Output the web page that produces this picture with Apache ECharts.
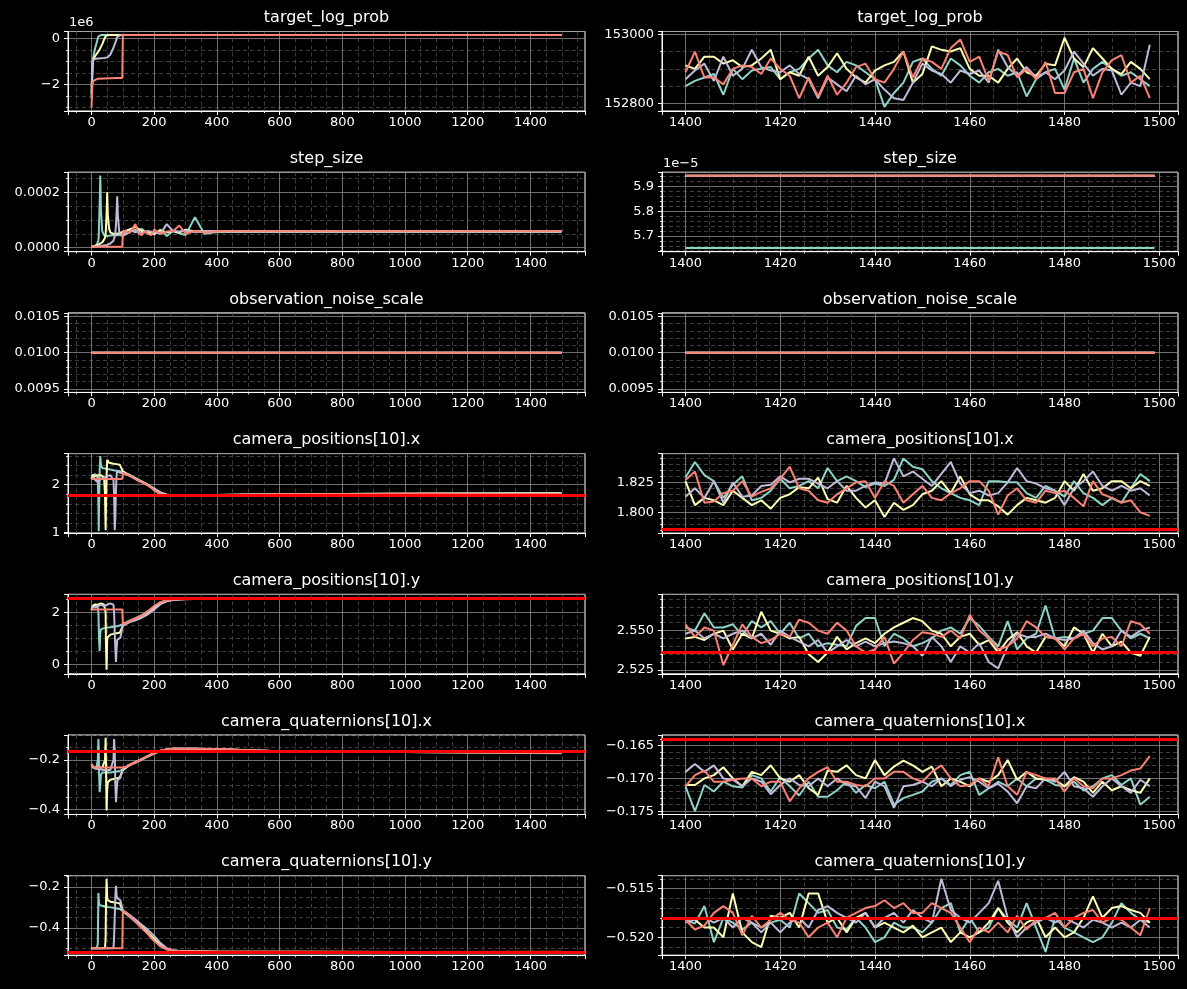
<!DOCTYPE html>
<html>
<head>
<meta charset="utf-8">
<script src="https://cdn.jsdelivr.net/npm/echarts@6/dist/echarts.min.js"></script>
<style>
  html, body { margin: 0; padding: 0; background: #000; }
  #chart { width: 1187px; height: 989px; }
</style>
</head>
<body>
<div id="chart"></div>
<script>
// chain colours (teal, yellow, lavender, salmon) and the true value line
const chainColors = ['#8dd3c7', '#feffb3', '#bfbbd9', '#fa8174']
const truthColor = '#ff0000'

// ---- left column: whole run, steps per chain ----
const stepsTeal = [0,4,8,12,16,20,22,23,24,26,28,30,34,40,50,60,70,80,90,100,120,140,160,180,200,220,240,260,280,300,330,360,400,600,1000,1499]
const stepsYellow = [0,4,8,12,16,20,25,30,35,40,43,45,46,48,50,52,56,60,70,80,90,100,120,140,160,180,200,220,240,260,280,300,330,360,400,600,1000,1499]
const stepsLav = [0,4,8,12,16,20,30,40,50,60,65,70,72,74,76,78,80,82,84,88,92,96,100,120,140,160,180,200,220,240,260,280,300,330,360,400,600,1000,1499]
const stepsSalmon = [0,3,6,10,20,40,60,80,98,99,100,110,120,130,140,150,160,170,180,190,200,220,240,260,280,300,330,360,400,600,1000,1499]
const stepsFlatLeft = [0, 1499]

const tlpTealL = [-2600000,-950000,-650000,-400000,-200000,0,100000,130000,145000,150000,151500,152000,152400,152600,152700,152750,152780,152800,152820,152830,152850,152860,152860,152870,152870,152880,152880,152880,152880,152890,152890,152890,152890,152890,152880,152850]
const tlpYellowL = [-2400000,-1000000,-850000,-750000,-680000,-600000,-500000,-360000,-220000,-50000,50000,100000,120000,140000,150000,151500,152200,152500,152700,152780,152820,152840,152860,152870,152880,152880,152890,152890,152900,152900,152900,152900,152910,152910,152910,152910,152910,152870]
const tlpLavL = [-2100000,-950000,-900000,-880000,-870000,-865000,-860000,-850000,-820000,-700000,-550000,-400000,-320000,-250000,-180000,-100000,-20000,80000,140000,152000,152400,152600,152700,152800,152830,152850,152860,152870,152870,152880,152880,152880,152880,152880,152880,152880,152880,152880,152860]
const tlpSalmonL = [-3000000,-2000000,-1850000,-1780000,-1750000,-1740000,-1730000,-1725000,-1720000,-1720000,152000,152500,152700,152800,152830,152850,152860,152870,152870,152880,152880,152880,152880,152880,152890,152890,152890,152890,152890,152890,152890,152890]

const stepTealL = [0.3e-5,0.4e-5,0.5e-5,0.7e-5,1.0e-5,1.5e-5,2.5e-5,4e-5,8e-5,16e-5,26e-5,14e-5,6e-5,4.5e-5,4.2e-5,4.4e-5,4.5e-5,4.5e-5,4.6e-5,5.0e-5,6.5e-5,5.5e-5,6.8e-5,5.0e-5,4.8e-5,6.5e-5,4.2e-5,6.0e-5,5.2e-5,4.6e-5,11e-5,5.0e-5,5.651e-5,5.651e-5,5.651e-5,5.651e-5]
const stepYellowL = [0.3e-5,0.4e-5,0.5e-5,0.6e-5,0.8e-5,1.0e-5,1.3e-5,1.6e-5,2.0e-5,2.5e-5,3.5e-5,5e-5,7e-5,12e-5,20e-5,12e-5,7e-5,5.5e-5,5e-5,5e-5,5.2e-5,5.8e-5,6.5e-5,7.5e-5,6.0e-5,5.5e-5,5.0e-5,6.2e-5,5.5e-5,6.0e-5,5.5e-5,6.5e-5,5.8e-5,6.0e-5,5.9435e-5,5.9435e-5,5.9435e-5,5.9435e-5]
const stepLavL = [0.3e-5,0.3e-5,0.35e-5,0.4e-5,0.45e-5,0.5e-5,0.6e-5,0.8e-5,1.0e-5,1.5e-5,2.0e-5,2.5e-5,3.0e-5,4.0e-5,5.5e-5,8e-5,13e-5,18.5e-5,12e-5,6e-5,4.5e-5,4.2e-5,4.3e-5,5.5e-5,6.5e-5,5.2e-5,6.0e-5,5.5e-5,5.0e-5,8.5e-5,6.0e-5,5.8e-5,6.2e-5,5.6e-5,6.0e-5,5.9435e-5,5.9435e-5,5.9435e-5,5.9435e-5]
const stepSalmonL = [0.3e-5,0.3e-5,0.3e-5,0.3e-5,0.3e-5,0.3e-5,0.3e-5,0.3e-5,0.3e-5,0.3e-5,5.5e-5,6.0e-5,5.2e-5,6.8e-5,8.5e-5,5.0e-5,4.5e-5,6.0e-5,5.0e-5,4.5e-5,6.5e-5,5.0e-5,5.8e-5,6.0e-5,8.0e-5,5.0e-5,6.0e-5,5.5e-5,5.9435e-5,5.9435e-5,5.9435e-5,5.9435e-5]

const noiseFlat = [0.01, 0.01]

const posXTealL = [2.12,2.2,2.22,2.22,2.2,2.15,1.6,1.03,1.5,2.3,2.6,2.42,2.35,2.34,2.33,2.32,2.3,2.29,2.28,2.26,2.21,2.14,2.07,2.0,1.92,1.83,1.79,1.775,1.775,1.775,1.778,1.78,1.785,1.80,1.812,1.828]
const posXYellowL = [2.12,2.2,2.2,2.18,2.15,2.2,2.22,2.2,2.2,2.15,1.8,1.05,1.5,2.2,2.52,2.5,2.46,2.45,2.44,2.43,2.42,2.28,2.2,2.13,2.06,1.99,1.91,1.82,1.785,1.77,1.77,1.772,1.775,1.778,1.785,1.80,1.81,1.822]
const posXLavL = [2.12,2.15,2.15,2.1,2.08,2.05,2.12,2.15,2.18,2.2,2.2,2.1,1.8,1.05,1.3,1.9,2.2,2.28,2.27,2.26,2.25,2.25,2.24,2.19,2.12,2.06,1.99,1.92,1.84,1.795,1.78,1.775,1.775,1.777,1.78,1.785,1.80,1.81,1.815]
const posXSalmonL = [2.12,2.12,2.12,2.12,2.12,2.12,2.12,2.12,2.12,2.12,2.25,2.22,2.19,2.16,2.12,2.08,2.05,2.02,1.98,1.94,1.88,1.8,1.78,1.772,1.77,1.77,1.772,1.775,1.78,1.80,1.81,1.806]

const posYTealL = [2.1,2.25,2.3,2.32,2.3,2.2,2.0,1.5,1.0,0.52,1.2,1.35,1.38,1.4,1.42,1.43,1.45,1.47,1.5,1.55,1.68,1.78,1.9,2.05,2.22,2.38,2.46,2.5,2.51,2.52,2.525,2.528,2.53,2.535,2.54,2.545]
const posYYellowL = [2.1,2.25,2.3,2.3,2.3,2.3,2.3,2.35,2.35,2.3,2.3,2.0,0.8,-0.2,0.95,1.05,1.1,1.15,1.18,1.2,1.22,1.5,1.64,1.74,1.85,2.0,2.2,2.37,2.45,2.49,2.51,2.52,2.525,2.528,2.53,2.535,2.54,2.546]
const posYLavL = [2.1,2.2,2.2,2.2,2.2,2.25,2.3,2.25,2.3,2.35,2.38,2.3,2.0,1.2,0.6,0.1,0.6,0.95,1.0,1.02,1.03,1.05,1.5,1.62,1.7,1.8,1.93,2.12,2.32,2.43,2.48,2.5,2.51,2.52,2.525,2.53,2.535,2.54,2.548]
const posYSalmonL = [2.12,2.12,2.12,2.12,2.12,2.12,2.12,2.12,2.12,2.12,1.55,1.6,1.66,1.72,1.77,1.82,1.88,1.96,2.05,2.15,2.25,2.4,2.47,2.5,2.51,2.52,2.525,2.528,2.53,2.535,2.54,2.548]

const quatXTealL = [-0.22,-0.225,-0.23,-0.23,-0.23,-0.2,-0.115,-0.16,-0.25,-0.33,-0.3,-0.26,-0.25,-0.25,-0.25,-0.25,-0.248,-0.246,-0.244,-0.238,-0.222,-0.21,-0.198,-0.186,-0.174,-0.164,-0.157,-0.155,-0.155,-0.155,-0.155,-0.156,-0.157,-0.165,-0.168,-0.1728]
const quatXYellowL = [-0.22,-0.225,-0.23,-0.23,-0.23,-0.23,-0.23,-0.23,-0.23,-0.23,-0.2,-0.11,-0.2,-0.404,-0.32,-0.29,-0.285,-0.28,-0.277,-0.274,-0.27,-0.24,-0.222,-0.21,-0.197,-0.184,-0.172,-0.163,-0.157,-0.155,-0.155,-0.155,-0.155,-0.156,-0.157,-0.165,-0.168,-0.17]
const quatXLavL = [-0.22,-0.23,-0.235,-0.235,-0.235,-0.236,-0.238,-0.24,-0.24,-0.24,-0.238,-0.2,-0.115,-0.16,-0.3,-0.37,-0.33,-0.29,-0.28,-0.275,-0.272,-0.27,-0.235,-0.22,-0.208,-0.196,-0.183,-0.171,-0.162,-0.157,-0.155,-0.155,-0.155,-0.155,-0.156,-0.157,-0.165,-0.168,-0.171]
const quatXSalmonL = [-0.215,-0.225,-0.23,-0.23,-0.23,-0.23,-0.23,-0.23,-0.23,-0.23,-0.235,-0.228,-0.22,-0.215,-0.21,-0.204,-0.197,-0.19,-0.184,-0.178,-0.172,-0.162,-0.157,-0.155,-0.155,-0.155,-0.155,-0.155,-0.156,-0.165,-0.168,-0.1702]

const quatYTealL = [-0.5,-0.5,-0.5,-0.5,-0.5,-0.48,-0.23,-0.26,-0.28,-0.29,-0.29,-0.29,-0.292,-0.295,-0.298,-0.3,-0.302,-0.305,-0.308,-0.318,-0.345,-0.37,-0.40,-0.43,-0.46,-0.49,-0.506,-0.512,-0.514,-0.515,-0.516,-0.516,-0.517,-0.518,-0.518,-0.5185]
const quatYYellowL = [-0.5,-0.5,-0.5,-0.5,-0.5,-0.5,-0.5,-0.5,-0.5,-0.5,-0.5,-0.45,-0.3,-0.16,-0.25,-0.265,-0.27,-0.272,-0.275,-0.278,-0.28,-0.318,-0.34,-0.365,-0.395,-0.425,-0.455,-0.485,-0.503,-0.511,-0.514,-0.515,-0.516,-0.516,-0.517,-0.517,-0.518,-0.5185]
const quatYLavL = [-0.5,-0.5,-0.5,-0.5,-0.5,-0.5,-0.5,-0.5,-0.5,-0.5,-0.5,-0.5,-0.45,-0.35,-0.25,-0.195,-0.24,-0.255,-0.26,-0.262,-0.265,-0.27,-0.315,-0.335,-0.36,-0.385,-0.41,-0.44,-0.475,-0.5,-0.51,-0.513,-0.515,-0.516,-0.516,-0.517,-0.517,-0.518,-0.519]
const quatYSalmonL = [-0.5,-0.5,-0.5,-0.5,-0.5,-0.5,-0.5,-0.5,-0.5,-0.5,-0.315,-0.325,-0.34,-0.355,-0.37,-0.385,-0.40,-0.415,-0.43,-0.45,-0.465,-0.49,-0.505,-0.512,-0.514,-0.515,-0.516,-0.516,-0.517,-0.517,-0.518,-0.517]

// ---- right column: last 100 steps ----
const stepsRight = [1400,1402,1404,1406,1408,1410,1412,1414,1416,1418,1420,1422,1424,1426,1428,1430,1432,1434,1436,1438,1440,1442,1444,1446,1448,1450,1452,1454,1456,1458,1460,1462,1464,1466,1468,1470,1472,1474,1476,1478,1480,1482,1484,1486,1488,1490,1492,1494,1496,1498]
const stepsFlatRight = [1400, 1499]

const tlpTealR = [152850,152865,152875,152885,152825,152900,152870,152895,152900,152905,152870,152890,152900,152930,152955,152910,152890,152920,152910,152890,152870,152790,152830,152860,152920,152930,152900,152880,152930,152910,152880,152860,152890,152900,152880,152890,152820,152870,152890,152900,152840,152930,152860,152900,152920,152900,152880,152890,152870,152850]
const tlpYellowR = [152910,152900,152935,152935,152915,152925,152905,152910,152930,152955,152870,152890,152880,152935,152880,152905,152945,152900,152875,152860,152895,152910,152920,152950,152860,152885,152965,152955,152950,152960,152900,152880,152880,152860,152900,152930,152890,152880,152915,152910,152990,152930,152905,152960,152930,152900,152885,152920,152900,152870]
const tlpLavR = [152870,152895,152915,152865,152935,152880,152900,152955,152905,152895,152890,152910,152885,152870,152815,152875,152855,152835,152880,152855,152870,152840,152815,152810,152860,152915,152895,152885,152860,152895,152885,152895,152860,152955,152905,152880,152905,152875,152890,152870,152895,152950,152915,152880,152900,152895,152825,152860,152850,152970]
const tlpSalmonR = [152890,152950,152875,152875,152855,152900,152910,152905,152885,152930,152900,152880,152815,152875,152820,152880,152825,152860,152905,152915,152870,152860,152900,152950,152875,152930,152920,152900,152960,152985,152920,152935,152865,152950,152940,152875,152900,152870,152920,152830,152830,152890,152900,152815,152890,152925,152940,152860,152880,152815]

const stepTealR = [5.651e-5, 5.651e-5]
const stepOtherR = [5.9435e-5, 5.9435e-5]

const posXTealR = [1.829,1.842,1.831,1.826,1.812,1.823,1.830,1.810,1.812,1.818,1.828,1.820,1.822,1.826,1.820,1.837,1.826,1.830,1.826,1.821,1.824,1.822,1.827,1.845,1.838,1.836,1.826,1.820,1.816,1.812,1.810,1.806,1.826,1.826,1.825,1.825,1.816,1.812,1.822,1.818,1.813,1.826,1.816,1.812,1.806,1.812,1.808,1.820,1.832,1.826]
const posXYellowR = [1.826,1.806,1.812,1.810,1.806,1.818,1.812,1.806,1.810,1.803,1.812,1.815,1.821,1.820,1.829,1.811,1.808,1.822,1.812,1.804,1.810,1.796,1.808,1.802,1.806,1.815,1.818,1.826,1.816,1.830,1.815,1.810,1.810,1.805,1.798,1.806,1.812,1.810,1.808,1.812,1.826,1.818,1.832,1.818,1.820,1.826,1.826,1.820,1.826,1.822]
const posXLavR = [1.813,1.820,1.812,1.826,1.808,1.825,1.813,1.814,1.822,1.823,1.830,1.825,1.828,1.828,1.824,1.820,1.826,1.818,1.818,1.822,1.825,1.824,1.845,1.830,1.834,1.828,1.822,1.832,1.842,1.824,1.816,1.818,1.814,1.816,1.825,1.837,1.826,1.824,1.820,1.818,1.806,1.820,1.826,1.834,1.822,1.818,1.822,1.818,1.820,1.814]
const posXSalmonR = [1.827,1.834,1.808,1.809,1.816,1.818,1.826,1.813,1.817,1.820,1.828,1.838,1.820,1.818,1.810,1.808,1.815,1.820,1.825,1.826,1.812,1.826,1.822,1.808,1.815,1.822,1.812,1.810,1.816,1.820,1.826,1.826,1.818,1.798,1.814,1.820,1.810,1.808,1.818,1.816,1.818,1.812,1.805,1.826,1.815,1.812,1.808,1.810,1.800,1.797]

const posYTealR = [2.552,2.550,2.561,2.552,2.552,2.554,2.547,2.556,2.552,2.556,2.548,2.555,2.545,2.548,2.540,2.542,2.541,2.540,2.553,2.558,2.558,2.540,2.548,2.545,2.540,2.542,2.545,2.550,2.552,2.548,2.558,2.553,2.546,2.540,2.556,2.538,2.545,2.548,2.566,2.545,2.546,2.545,2.548,2.550,2.558,2.558,2.550,2.545,2.548,2.545]
const posYYellowR = [2.545,2.546,2.544,2.548,2.550,2.538,2.548,2.545,2.562,2.550,2.548,2.545,2.546,2.535,2.530,2.536,2.546,2.538,2.542,2.545,2.542,2.548,2.552,2.555,2.558,2.556,2.550,2.548,2.540,2.546,2.548,2.541,2.544,2.536,2.544,2.549,2.540,2.536,2.546,2.545,2.540,2.552,2.548,2.536,2.548,2.540,2.543,2.536,2.534,2.546]
const posYLavR = [2.548,2.550,2.545,2.548,2.545,2.548,2.550,2.545,2.548,2.541,2.550,2.546,2.543,2.540,2.544,2.536,2.540,2.544,2.540,2.543,2.540,2.542,2.543,2.542,2.540,2.534,2.546,2.540,2.530,2.540,2.536,2.542,2.530,2.526,2.540,2.548,2.546,2.546,2.548,2.545,2.544,2.545,2.550,2.542,2.538,2.540,2.550,2.546,2.550,2.552]
const posYSalmonR = [2.554,2.546,2.552,2.550,2.528,2.541,2.554,2.546,2.542,2.544,2.548,2.546,2.557,2.555,2.550,2.548,2.555,2.550,2.540,2.536,2.538,2.546,2.529,2.536,2.544,2.549,2.548,2.546,2.550,2.545,2.560,2.550,2.545,2.538,2.540,2.545,2.556,2.552,2.546,2.545,2.538,2.545,2.548,2.540,2.545,2.546,2.540,2.556,2.554,2.548]

const quatXTealR = [-0.1712,-0.1750,-0.1710,-0.1720,-0.1705,-0.1712,-0.1714,-0.1695,-0.1700,-0.1720,-0.1698,-0.1712,-0.1726,-0.1705,-0.1728,-0.1728,-0.1718,-0.1705,-0.1722,-0.1710,-0.1715,-0.1705,-0.1740,-0.1730,-0.1725,-0.1720,-0.1705,-0.1700,-0.1710,-0.1695,-0.1690,-0.1725,-0.1715,-0.1705,-0.1712,-0.1700,-0.1712,-0.1700,-0.1702,-0.1710,-0.1712,-0.1705,-0.1718,-0.1712,-0.1700,-0.1695,-0.1710,-0.1700,-0.1740,-0.1728]
const quatXYellowR = [-0.1710,-0.1710,-0.1700,-0.1695,-0.1683,-0.1700,-0.1712,-0.1690,-0.1695,-0.1680,-0.1700,-0.1705,-0.1695,-0.1715,-0.1725,-0.1688,-0.1690,-0.1680,-0.1695,-0.1700,-0.1672,-0.1695,-0.1682,-0.1673,-0.1680,-0.1690,-0.1682,-0.1712,-0.1700,-0.1705,-0.1712,-0.1700,-0.1705,-0.1695,-0.1672,-0.1702,-0.1690,-0.1700,-0.1702,-0.1702,-0.1712,-0.1698,-0.1705,-0.1722,-0.1705,-0.1718,-0.1712,-0.1718,-0.1722,-0.1700]
const quatXLavR = [-0.1690,-0.1678,-0.1690,-0.1680,-0.1700,-0.1702,-0.1712,-0.1700,-0.1705,-0.1724,-0.1710,-0.1700,-0.1710,-0.1712,-0.1700,-0.1712,-0.1700,-0.1710,-0.1712,-0.1730,-0.1705,-0.1712,-0.1745,-0.1712,-0.1710,-0.1705,-0.1712,-0.1700,-0.1712,-0.1702,-0.1698,-0.1705,-0.1715,-0.1708,-0.1720,-0.1738,-0.1712,-0.1715,-0.1700,-0.1705,-0.1690,-0.1712,-0.1715,-0.1728,-0.1712,-0.1700,-0.1712,-0.1722,-0.1702,-0.1712]
const quatXSalmonR = [-0.1712,-0.1695,-0.1688,-0.1705,-0.1705,-0.1702,-0.1700,-0.1700,-0.1712,-0.1705,-0.1705,-0.1735,-0.1715,-0.1700,-0.1690,-0.1683,-0.1705,-0.1705,-0.1710,-0.1712,-0.1700,-0.1700,-0.1690,-0.1690,-0.1700,-0.1705,-0.1690,-0.1680,-0.1700,-0.1712,-0.1710,-0.1700,-0.1712,-0.1668,-0.1712,-0.1725,-0.1690,-0.1695,-0.1700,-0.1700,-0.1720,-0.1700,-0.1712,-0.1715,-0.1700,-0.1700,-0.1695,-0.1688,-0.1685,-0.1666]

const quatYTealR = [-0.5182,-0.5186,-0.5168,-0.5205,-0.5180,-0.5185,-0.5192,-0.5185,-0.5190,-0.5185,-0.5182,-0.5190,-0.5155,-0.5165,-0.5175,-0.5172,-0.5190,-0.5192,-0.5180,-0.5190,-0.5205,-0.5200,-0.5185,-0.5190,-0.5190,-0.5195,-0.5185,-0.5170,-0.5165,-0.5195,-0.5180,-0.5195,-0.5190,-0.5170,-0.5182,-0.5190,-0.5165,-0.5190,-0.5215,-0.5180,-0.5190,-0.5195,-0.5200,-0.5205,-0.5200,-0.5185,-0.5165,-0.5175,-0.5182,-0.5185]
const quatYYellowR = [-0.5180,-0.5182,-0.5190,-0.5190,-0.5200,-0.5155,-0.5195,-0.5205,-0.5210,-0.5178,-0.5180,-0.5175,-0.5190,-0.5155,-0.5155,-0.5185,-0.5180,-0.5195,-0.5180,-0.5175,-0.5190,-0.5185,-0.5190,-0.5195,-0.5188,-0.5200,-0.5195,-0.5190,-0.5205,-0.5195,-0.5200,-0.5195,-0.5185,-0.5170,-0.5185,-0.5195,-0.5185,-0.5180,-0.5200,-0.5190,-0.5200,-0.5195,-0.5180,-0.5158,-0.5180,-0.5170,-0.5168,-0.5172,-0.5175,-0.5185]
const quatYLavR = [-0.5185,-0.5182,-0.5180,-0.5185,-0.5180,-0.5190,-0.5180,-0.5185,-0.5195,-0.5185,-0.5195,-0.5185,-0.5180,-0.5190,-0.5172,-0.5168,-0.5175,-0.5180,-0.5185,-0.5175,-0.5190,-0.5180,-0.5175,-0.5185,-0.5172,-0.5180,-0.5185,-0.5140,-0.5172,-0.5180,-0.5185,-0.5175,-0.5165,-0.5142,-0.5180,-0.5200,-0.5190,-0.5185,-0.5180,-0.5185,-0.5180,-0.5185,-0.5190,-0.5182,-0.5185,-0.5190,-0.5185,-0.5190,-0.5182,-0.5190]
const quatYSalmonR = [-0.5182,-0.5192,-0.5188,-0.5175,-0.5168,-0.5175,-0.5198,-0.5178,-0.5190,-0.5182,-0.5175,-0.5182,-0.5185,-0.5200,-0.5190,-0.5185,-0.5200,-0.5180,-0.5175,-0.5170,-0.5168,-0.5162,-0.5170,-0.5165,-0.5175,-0.5175,-0.5165,-0.5170,-0.5175,-0.5190,-0.5205,-0.5190,-0.5195,-0.5185,-0.5195,-0.5178,-0.5192,-0.5182,-0.5180,-0.5175,-0.5190,-0.5180,-0.5175,-0.5172,-0.5185,-0.5180,-0.5182,-0.5190,-0.5198,-0.5170]

// true values drawn as red horizontal lines
const truePosX = 1.7856
const truePosY = 2.5362
const trueQuatX = -0.16404
const trueQuatY = -0.51809

const panelTitles = ['target_log_prob', 'step_size', 'observation_noise_scale', 'camera_positions[10].x', 'camera_positions[10].y', 'camera_quaternions[10].x', 'camera_quaternions[10].y']

function fmt (dec, scale) {
    scale = scale || 1
    return function (v) {
        let s = (v * scale).toFixed(dec)
        if (/^-0(\.0+)?$/.test(s)) s = s.slice(1)
        return s.replace('-', '\u2212')
    }
}

const leftSteps = [stepsTeal, stepsYellow, stepsLav, stepsSalmon]
const flatL = [stepsFlatLeft, stepsFlatLeft, stepsFlatLeft, stepsFlatLeft]
const rightSteps = [stepsRight, stepsRight, stepsRight, stepsRight]
const flatR = [stepsFlatRight, stepsFlatRight, stepsFlatRight, stepsFlatRight]

const leftX = { min: -75, max: 1574, step: 200, minor: 4 }
const rightX = { min: 1395.05, max: 1503.95, step: 20, minor: 4 }

const panels = [
    // left column
    { col: 0, row: 0, xs: leftSteps, ys: [tlpTealL, tlpYellowL, tlpLavL, tlpSalmonL], y: [-3.16e6, 0.31e6, 2e6, 4], f: fmt(0, 1e-6), offset: '1e6' },
    { col: 0, row: 1, xs: leftSteps, ys: [stepTealL, stepYellowL, stepLavL, stepSalmonL], y: [-0.0000145, 0.000272, 0.0002, 4], f: fmt(4) },
    { col: 0, row: 2, xs: flatL, ys: [noiseFlat, noiseFlat, noiseFlat, noiseFlat], y: [0.00945, 0.01055, 0.0005, 5], f: fmt(4) },
    { col: 0, row: 3, xs: leftSteps, ys: [posXTealL, posXYellowL, posXLavL, posXSalmonL], y: [0.99, 2.65, 1, 5], f: fmt(0), truth: truePosX },
    { col: 0, row: 4, xs: leftSteps, ys: [posYTealL, posYYellowL, posYLavL, posYSalmonL], y: [-0.355, 2.70, 2, 4], f: fmt(0), truth: truePosY },
    { col: 0, row: 5, xs: leftSteps, ys: [quatXTealL, quatXYellowL, quatXLavL, quatXSalmonL], y: [-0.42, -0.099, 0.2, 4], f: fmt(1), truth: trueQuatX },
    { col: 0, row: 6, xs: leftSteps, ys: [quatYTealL, quatYYellowL, quatYLavL, quatYSalmonL], y: [-0.534, -0.145, 0.2, 4], f: fmt(1), truth: trueQuatY },
    // right column
    { col: 1, row: 0, xs: rightSteps, ys: [tlpTealR, tlpYellowR, tlpLavR, tlpSalmonR], y: [152778, 153008, 200, 4], f: fmt(0) },
    { col: 1, row: 1, xs: flatR, ys: [stepTealR, stepOtherR, stepOtherR, stepOtherR], y: [5.636e-5, 5.958e-5, 1e-6, 5], f: fmt(1, 1e5), offset: '1e\u22125' },
    { col: 1, row: 2, xs: flatR, ys: [noiseFlat, noiseFlat, noiseFlat, noiseFlat], y: [0.00945, 0.01055, 0.0005, 5], f: fmt(4) },
    { col: 1, row: 3, xs: rightSteps, ys: [posXTealR, posXYellowR, posXLavR, posXSalmonR], y: [1.7826, 1.849, 0.025, 5], f: fmt(3), truth: truePosX },
    { col: 1, row: 4, xs: rightSteps, ys: [posYTealR, posYYellowR, posYLavR, posYSalmonR], y: [2.5225, 2.5731, 0.025, 5], f: fmt(3), truth: truePosY },
    { col: 1, row: 5, xs: rightSteps, ys: [quatXTealR, quatXYellowR, quatXLavR, quatXSalmonR], y: [-0.1755, -0.16338, 0.005, 5], f: fmt(3), truth: trueQuatX },
    { col: 1, row: 6, xs: rightSteps, ys: [quatYTealR, quatYYellowR, quatYLavR, quatYSalmonR], y: [-0.52184, -0.51368, 0.005, 5], f: fmt(3), truth: trueQuatY }
]

// layout of the 7 x 2 panel boxes (px)
const colLeft = [68, 662]
const colWidth = [517, 516]
const rowTop = 31.5
const rowPitch = 140.7
const boxHeight = 79.5

const fontFamily = '"DejaVu Sans", sans-serif'
const white = '#ffffff'

const grids = []
const xAxes = []
const yAxes = []
const series = []
const texts = []

panels.forEach(function (p, i) {
    const top = rowTop + p.row * rowPitch
    const left = colLeft[p.col]
    const width = colWidth[p.col]
    grids.push({ left: left, top: top, width: width, height: boxHeight, show: true, borderColor: white, borderWidth: 1, backgroundColor: 'transparent', containLabel: false })

    const xr = p.col === 0 ? leftX : rightX
    const common = {
        type: 'value',
        gridIndex: i,
        axisLine: { show: true, onZero: false, lineStyle: { color: white, width: 1 } },
        axisTick: { show: true, length: 4, lineStyle: { color: white, width: 1 } },
        minorTick: { show: true, length: 2, lineStyle: { color: white, width: 0.8 } },
        splitLine: { show: true, lineStyle: { color: '#8a8a8a', width: 0.8 } },
        minorSplitLine: { show: true, lineStyle: { color: '#4d4d4d', width: 0.8, type: [4, 3] } }
    }
    xAxes.push(Object.assign({}, common, {
        min: xr.min, max: xr.max, minInterval: xr.step, maxInterval: xr.step, splitNumber: 8,
        minorTick: Object.assign({}, common.minorTick, { splitNumber: xr.minor }),
        axisLabel: { color: white, fontSize: 13, fontFamily: fontFamily, margin: 5, showMinLabel: false, showMaxLabel: false, formatter: fmt(0) }
    }))
    yAxes.push(Object.assign({}, common, {
        min: p.y[0], max: p.y[1], minInterval: p.y[2], maxInterval: p.y[2], splitNumber: 3,
        minorTick: Object.assign({}, common.minorTick, { splitNumber: p.y[3] }),
        axisLabel: { color: white, fontSize: 13, fontFamily: fontFamily, margin: 8, showMinLabel: false, showMaxLabel: false, formatter: p.f }
    }))

    p.ys.forEach(function (vals, c) {
        const xs = p.xs[c]
        const s = {
            type: 'line',
            xAxisIndex: i,
            yAxisIndex: i,
            data: vals.map(function (v, k) { return [xs[k], v] }),
            showSymbol: false,
            symbol: 'none',
            silent: true,
            animation: false,
            lineStyle: { color: chainColors[c], width: 2 },
            itemStyle: { color: chainColors[c] },
            z: 2
        }
        if (c === 3 && p.truth != null) {
            s.markLine = {
                silent: true,
                symbol: 'none',
                precision: 8,
                animation: false,
                label: { show: false },
                lineStyle: { color: truthColor, width: 3, type: 'solid' },
                data: [{ yAxis: p.truth }]
            }
        }
        series.push(s)
    })

    texts.push({
        type: 'text', x: left + width / 2, y: top - 13.5,
        style: { text: panelTitles[p.row], fill: white, font: '16px ' + fontFamily, textAlign: 'center', textVerticalAlign: 'middle' }
    })
    if (p.offset) {
        texts.push({
            type: 'text', x: left + 1, y: top - 8.5,
            style: { text: p.offset, fill: white, font: '13px ' + fontFamily, textAlign: 'left', textVerticalAlign: 'middle' }
        })
    }
})

const chart = echarts.init(document.getElementById('chart'))
chart.setOption({
    backgroundColor: '#000000',
    animation: false,
    grid: grids,
    xAxis: xAxes,
    yAxis: yAxes,
    series: series,
    graphic: texts
})
</script>
</body>
</html>
